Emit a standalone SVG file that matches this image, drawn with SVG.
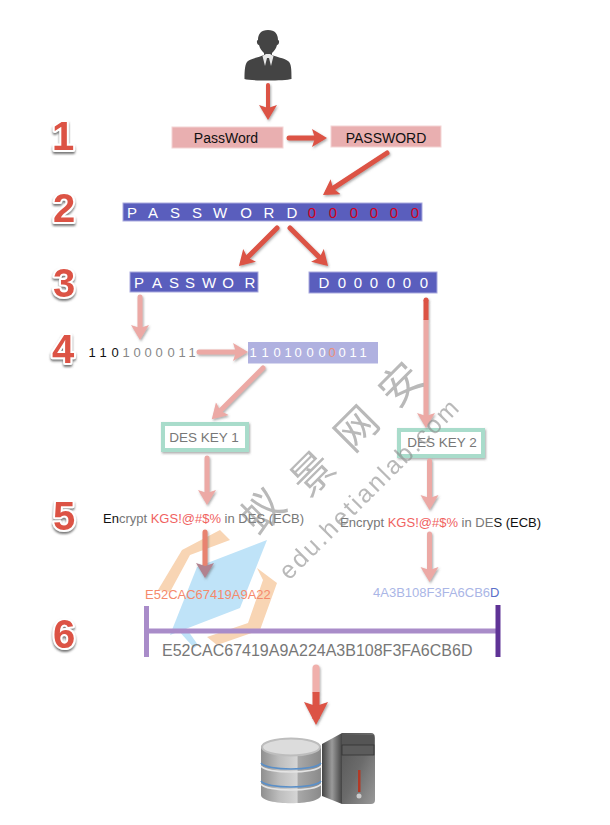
<svg xmlns="http://www.w3.org/2000/svg" width="610" height="825" viewBox="0 0 610 825">
<style>
text{font-family:"Liberation Sans",Arial,sans-serif}
.sans{font-size:14px;fill:#111}
.num{font-size:40px;font-weight:bold;fill:#dc5244;stroke:#fff;stroke-width:4px;paint-order:stroke;text-anchor:middle;stroke-linejoin:round;filter:url(#ns)}
.pinkbox{fill:#e9afb0;stroke:#f3d4d4;stroke-width:1}
.bluebox{fill:#5a5ebd;stroke:#a9aade;stroke-width:1}
.wt{fill:#fff;font-size:15px;text-anchor:middle}
.red{fill:none;stroke:#dc5244;stroke-width:5;stroke-linecap:round}
.pale{fill:none;stroke:#eca9a5;stroke-width:5;stroke-linecap:round}
.key{fill:#fff;stroke:#a9dccb;stroke-width:4;filter:url(#as)}
.keyt{font-size:13.500px;fill:#777;text-anchor:middle}
.enc{font-size:13px;fill:#777}
.wm{fill:#8a8a8a;opacity:.6}
.cjk{font-size:42px;text-anchor:middle}
</style>
<defs>
<filter id="ns" x="-30%" y="-30%" width="160%" height="160%"><feDropShadow dx="0" dy="2" stdDeviation="1" flood-color="#555" flood-opacity=".8"/></filter>
<filter id="as" x="-30%" y="-30%" width="160%" height="160%"><feDropShadow dx="1" dy="1.500" stdDeviation="1" flood-color="#555" flood-opacity=".5"/></filter>
<marker id="mr" markerUnits="userSpaceOnUse" markerWidth="20" markerHeight="20" refX="9" refY="9" orient="auto"><path d="M0 0L15 9L0 18L3 9Z" fill="#dc5244"/></marker>
<marker id="mp" markerUnits="userSpaceOnUse" markerWidth="20" markerHeight="20" refX="9" refY="9" orient="auto"><path d="M0 0L15 9L0 18L3 9Z" fill="#eca9a5"/></marker>
<marker id="mb" markerUnits="userSpaceOnUse" markerWidth="28" markerHeight="28" refX="17" refY="12" orient="auto"><path d="M0 0L23 12L0 24L4 12Z" fill="#dc5244"/></marker>
<linearGradient id="cyl" x1="0" x2="1" y1="0" y2="0"><stop offset="0" stop-color="#8f8f8f"/><stop offset=".3" stop-color="#bdbdbd"/><stop offset=".6" stop-color="#d5d5d5"/><stop offset=".62" stop-color="#a8a8a8"/><stop offset="1" stop-color="#8a8a8a"/></linearGradient>
<linearGradient id="tower" x1="0" x2="1" y1="0" y2="1"><stop offset="0" stop-color="#555"/><stop offset=".5" stop-color="#6b6b6b"/><stop offset="1" stop-color="#999"/></linearGradient>
<linearGradient id="side" x1="0" x2="1" y1="0" y2="0"><stop offset="0" stop-color="#444"/><stop offset=".5" stop-color="#9a9a9a"/><stop offset="1" stop-color="#444"/></linearGradient>
</defs>

<g id="logo">
<path d="M220 530L230 540L190 555L170 592L158 590L182 550Z" fill="#f8d5b4"/>
<path d="M257 568L277 583L260 630L217 645L207 637L248 623L263 580Z" fill="#f8d5b4"/>
<path d="M267 540L240 608L170 635L197 567Z" fill="#bfe3f8"/>
<path d="M178 630L186 628L198 645L194 648Z" fill="#bfe3f8"/>
</g>

<g id="num1"><text class="num" x="63" y="150">1</text></g>
<g id="num2"><text class="num" x="64" y="222">2</text></g>
<g id="num3"><text class="num" x="64" y="297">3</text></g>
<g id="num4"><text class="num" x="63" y="363">4</text></g>
<g id="num5"><text class="num" x="64" y="530">5</text></g>
<g id="num6"><text class="num" x="64" y="648">6</text></g>

<g id="user">
<path d="M268 30c-7 0-10 4-10 10c-2 0-1 5 1 5c1 4 3 6 5 8l0 2c-4 2-12 3-16 6c-3 2-3.500 9-3.500 18c6 2 40 2 47 0c0-9 0-16-3.500-18c-4-3-12-4-16-6l0-2c2-2 4-4 5-8c2 0 3-5 1-5c0-6-3-10-10-10z" fill="#444"/>
<path d="M262.500 56L266 54L270 54L273.500 56L271 66L269 58L267 58L265 66Z" fill="#e8e8e8"/>
</g>

<g id="pw1"><rect class="pinkbox" x="172" y="127" width="111" height="21"/><text class="sans" x="226" y="143" text-anchor="middle">PassWord</text></g>
<g id="pw2"><rect class="pinkbox" x="331" y="126" width="110" height="21"/><text class="sans" x="386" y="143" text-anchor="middle">PASSWORD</text></g>

<g id="bar2"><rect class="bluebox" x="123" y="203" width="299" height="18"/>
<text class="wt" x="132 153 175 197 220 246 269 292" y="218">PASSWORD</text>
<text class="wt" style="fill:#d0021b" x="312 333 354 374 394 415" y="218">000000</text></g>
<g id="bar3l"><rect class="bluebox" x="130" y="272" width="128" height="20"/>
<text class="wt" x="139 157 174 190 209 228 250" y="288">PASSWOR</text></g>
<g id="bar3r"><rect class="bluebox" x="309" y="272" width="128" height="21"/>
<text class="wt" x="324 342 358 374 391 407 424" y="288">D000000</text></g>

<g id="bits1"><text x="92 103 115" y="357" font-size="13" fill="#111" text-anchor="middle">110</text>
<text x="126 137 148 159 171 182 192" y="357" font-size="13" fill="#888" text-anchor="middle">1000011</text></g>
<g id="bits2"><rect x="248" y="342" width="130" height="21.500" fill="#b0b1e0"/>
<text x="253 265 277 288 298 310 322" y="357" font-size="13" fill="#fff" text-anchor="middle">1101000</text>
<text x="332" y="357" font-size="13" fill="#ec8f7a" text-anchor="middle">0</text>
<text x="342 353 363" y="357" font-size="13" fill="#fff" text-anchor="middle">011</text></g>

<g id="key1"><rect class="key" x="163" y="424" width="84" height="26"/><text class="keyt" x="204" y="442">DES KEY 1</text></g>
<g id="key2"><rect class="key" x="399" y="430" width="84" height="26"/><text class="keyt" x="442" y="447">DES KEY 2</text></g>

<g id="enc1"><text class="enc" x="103" y="523"><tspan fill="#111">En</tspan>crypt <tspan fill="#f0625f">KGS!@#$%</tspan> in DES (ECB)</text></g>
<g id="enc2"><text class="enc" x="340" y="527">Encrypt <tspan fill="#f0625f">KGS!@#$%</tspan> in DE<tspan fill="#111">S (ECB)</tspan></text></g>
<g id="c1"><text x="145" y="599" font-size="13" fill="#f58a6c">E52CAC67419A9A22</text></g>
<g id="c2"><text x="373" y="597" font-size="13" fill="#aab6e6">4A3B108F3FA6CB6<tspan fill="#5b6fc9">D</tspan></text></g>
<g id="c3"><text x="162" y="656" font-size="16" fill="#777">E52CAC67419A9A224A3B108F3FA6CB6D</text></g>

<g id="bracket">
<line x1="146.500" y1="606" x2="146.500" y2="657" stroke="#a98cc9" stroke-width="5"/>
<line x1="146.500" y1="631" x2="498" y2="631" stroke="#a98cc9" stroke-width="5"/>
<line x1="498" y1="605" x2="498" y2="657" stroke="#5f3396" stroke-width="5"/>
</g>

<g id="connectors" filter="url(#as)">
<line class="red" style="stroke-width:4" x1="268" y1="85" x2="268" y2="114" marker-end="url(#mr)"/>
<line class="red" x1="289" y1="138" x2="321" y2="138" marker-end="url(#mr)"/>
<line class="red" x1="387" y1="153" x2="328" y2="191.600" marker-end="url(#mr)"/>
<line class="red" x1="277" y1="228" x2="243.200" y2="261.700" marker-end="url(#mr)"/>
<line class="red" x1="290" y1="228" x2="323.800" y2="261.700" marker-end="url(#mr)"/>
<line class="pale" x1="140" y1="297" x2="140" y2="334" marker-end="url(#mp)"/>
<line class="pale" x1="199" y1="352" x2="242" y2="352" marker-end="url(#mp)"/>
<line class="pale" x1="263" y1="368" x2="216" y2="415" marker-end="url(#mp)"/>
<line class="pale" x1="207" y1="458" x2="207" y2="499" marker-end="url(#mp)"/>
<line class="pale" x1="426" y1="320" x2="426" y2="422" marker-end="url(#mp)"/>
<line class="red" style="stroke-linecap:butt" x1="426" y1="300" x2="426" y2="320"/>
<circle cx="426" cy="300" r="2.500" fill="#dc5244"/>
<line class="pale" x1="429.500" y1="461" x2="429.500" y2="504" marker-end="url(#mp)"/>
<line class="pale" x1="429.500" y1="534" x2="429.500" y2="576" marker-end="url(#mp)"/>
<line x1="205" y1="532" x2="205" y2="568" stroke="#e8836f" stroke-width="5" stroke-linecap="round"/>
<path d="M196 563L205 578L214 563L205 566Z" fill="#b1828f"/>
<line x1="316" y1="668" x2="316" y2="692" stroke="#f0b0ac" stroke-width="7" stroke-linecap="round"/>
<line x1="316" y1="692" x2="316" y2="719" stroke="#dc5244" stroke-width="7" marker-end="url(#mb)"/>
</g>

<g id="server">
<path d="M322 744L342 733L342 804L322 796Z" fill="url(#side)"/>
<path d="M342 733H371Q375 733 375 738V800Q375 804 371 804H342Z" fill="url(#tower)"/>
<rect x="342" y="735" width="32" height="10" fill="#555"/>
<rect x="342" y="745" width="32" height="10" fill="#5c5c5c" stroke="#333" stroke-width=".8"/>
<rect x="358" y="770" width="2.500" height="22" fill="#b23a26"/>
<circle cx="359" cy="796" r="2.500" fill="#ccc"/>
</g>
<g id="database">
<path d="M261 747C261 738 321 738 321 747V795C321 806 261 806 261 795Z" fill="url(#cyl)"/>
<ellipse cx="291" cy="747" rx="29" ry="8.500" fill="#dcdcdc" stroke="#bdbdbd" stroke-width="2"/>
<path d="M261 763C266 771 316 771 321 763" fill="none" stroke="#5a8fc8" stroke-width="1.500"/>
<path d="M261 781C266 789 316 789 321 781" fill="none" stroke="#5a8fc8" stroke-width="1.500"/>
<path d="M261 766C266 774 316 774 321 766M261 784C266 792 316 792 321 784" fill="none" stroke="#e4e4e4" stroke-width="1.500"/>
</g>

<g id="watermark" class="wm">
<text class="cjk" style="font-family:'Noto Sans CJK SC',sans-serif" transform="translate(273 522) rotate(-45)">蚁</text>
<text class="cjk" style="font-family:'Noto Sans CJK SC',sans-serif" transform="translate(323 484) rotate(-45)">景</text>
<text class="cjk" style="font-family:'Noto Sans CJK SC',sans-serif" transform="translate(367 439) rotate(-45)">网</text>
<text class="cjk" style="font-family:'Noto Sans CJK SC',sans-serif" transform="translate(411 395) rotate(-45)">安</text>
<text font-size="25" textLength="242" transform="translate(289 581) rotate(-45)">edu.hetianlab.com</text>
</g>
</svg>
